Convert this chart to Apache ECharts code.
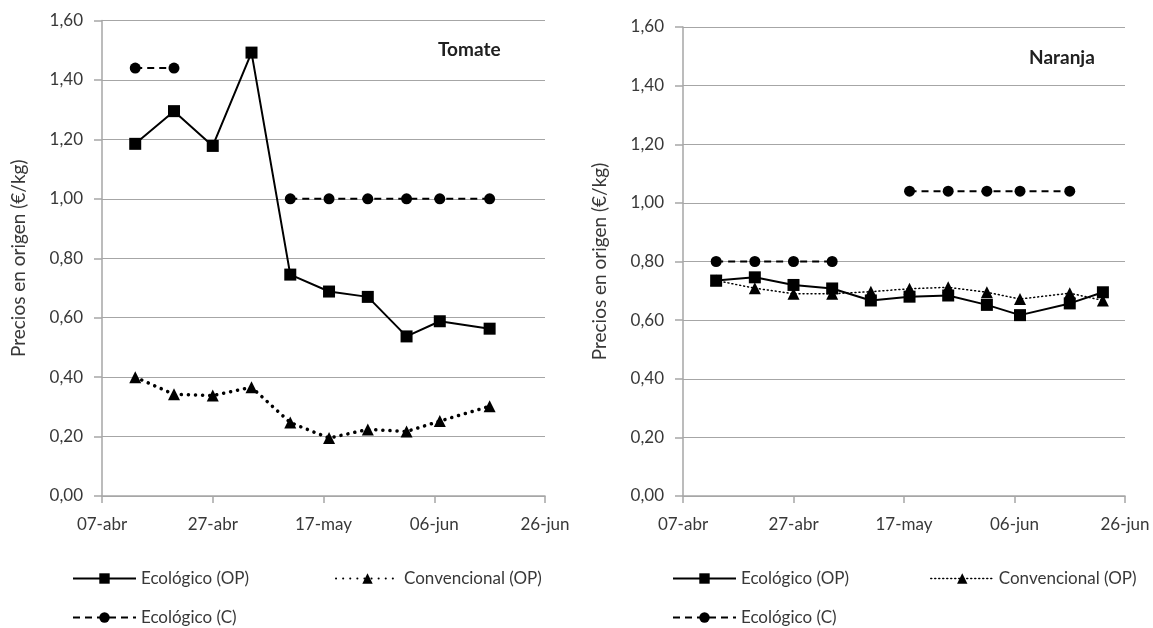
<!DOCTYPE html>
<html>
<head>
<meta charset="utf-8">
<script src="https://cdn.jsdelivr.net/npm/echarts@6/dist/echarts.min.js"></script>
<style>
html,body{margin:0;padding:0;background:#fff;}
#chart{width:1153px;height:628px;}
</style>
</head>
<body>
<div id="chart"></div>
<script>
// ---- Data ----
const startDate = '2010-04-07';
const endDate = '2010-06-26';
const tickStepDays = 20;
const monthNames = ['ene','feb','mar','abr','may','jun','jul','ago','sep','oct','nov','dic'];

const tomateDates = ['2010-04-13','2010-04-20','2010-04-27','2010-05-04','2010-05-11','2010-05-18','2010-05-25','2010-06-01','2010-06-07','2010-06-16'];
const tomateEcoOP = [1.185,1.295,1.178,1.492,0.745,0.688,0.670,0.537,0.588,0.563];
const tomateConvOP = [0.400,0.342,0.338,0.366,0.247,0.195,0.224,0.217,0.252,0.302];
const tomateEcoC = [1.44,1.44,null,null,1.00,1.00,1.00,1.00,1.00,1.00];

const naranjaDates = ['2010-04-13','2010-04-20','2010-04-27','2010-05-04','2010-05-11','2010-05-18','2010-05-25','2010-06-01','2010-06-07','2010-06-16','2010-06-22'];
const naranjaEcoOP = [0.735,0.746,0.720,0.708,0.667,0.680,0.684,0.652,0.617,0.657,0.695];
const naranjaConvOP = [0.735,0.709,0.690,0.690,0.697,0.707,0.712,0.695,0.672,0.692,0.667];
const naranjaEcoC = [0.80,0.80,0.80,0.80,null,1.04,1.04,1.04,1.04,1.04,null];

const seriesNames = ['Ecológico (OP)','Convencional (OP)','Ecológico (C)'];
const chartTitles = ['Tomate','Naranja'];
const yAxisName = 'Precios en origen (€/kg)';

// ---- Helpers ----
const DAY = 86400000;
const t0 = Date.parse(startDate + 'T00:00:00Z');
const dayOffset = d => Math.round((Date.parse(d + 'T00:00:00Z') - t0) / DAY);
const spanDays = dayOffset(endDate);
const pairs = (dates, vals) => dates.map((d, i) => [dayOffset(d), vals[i]]);
const fmtDate = v => {
  const dt = new Date(t0 + v * DAY);
  const dd = String(dt.getUTCDate()).padStart(2, '0');
  return dd + '-' + monthNames[dt.getUTCMonth()];
};
const FONT = 'Lato';
const TXT = '#383838';
const GRIDC = '#a6a6a6';

function xAxis(gi) {
  return {
    type: 'value', gridIndex: gi, min: 0, max: spanDays, interval: tickStepDays,
    axisLine: {show: true, lineStyle: {color: GRIDC, width: 1.5}},
    axisTick: {show: true, length: 7, lineStyle: {color: GRIDC, width: 1.5}},
    splitLine: {show: false},
    axisLabel: {formatter: fmtDate, color: TXT, fontSize: 17, fontFamily: FONT, margin: 20}
  };
}
function yAxis(gi) {
  return {
    type: 'value', gridIndex: gi, min: 0, max: 1.6, interval: 0.2,
    name: yAxisName, nameLocation: 'middle', nameGap: 74, nameRotate: 90,
    nameTextStyle: {color: TXT, fontSize: 19, fontFamily: FONT},
    axisLine: {show: true, lineStyle: {color: GRIDC, width: 1.5}},
    axisTick: {show: true, inside: false, length: 8, lineStyle: {color: GRIDC, width: 1.5}},
    splitLine: {show: true, lineStyle: {color: GRIDC, width: 1.2}},
    axisLabel: {formatter: v => v.toFixed(2).replace('.', ','), color: TXT, fontSize: 17, fontFamily: FONT, margin: 19}
  };
}
function ecoOP(gi, dates, vals) {
  return {name: seriesNames[0], type: 'line', xAxisIndex: gi, yAxisIndex: gi,
    data: pairs(dates, vals), symbol: 'rect', symbolSize: 12, showSymbol: true,
    lineStyle: {color: '#000', width: 2}, itemStyle: {color: '#000'}, z: 3, animation: false};
}
function convOP(gi, dates, vals, width, dash) {
  return {name: seriesNames[1], type: 'line', xAxisIndex: gi, yAxisIndex: gi,
    data: pairs(dates, vals), symbol: 'triangle', symbolSize: 12,
    lineStyle: {color: '#000', width: width, type: dash, cap: 'round'}, itemStyle: {color: '#000'}, z: 2, animation: false};
}
function ecoC(gi, dates, vals) {
  return {name: seriesNames[2], type: 'line', xAxisIndex: gi, yAxisIndex: gi,
    data: pairs(dates, vals), symbol: 'circle', symbolSize: 11, connectNulls: false,
    lineStyle: {color: '#000', width: 2, type: [7, 5]}, itemStyle: {color: '#000'}, z: 2, animation: false};
}
function legend(name, left, top, lineStyle) {
  const l = {data: [name], left: left, top: top, padding: 0, itemWidth: 63, itemHeight: 13, itemGap: 4,
    textStyle: {color: TXT, fontSize: 17, fontFamily: FONT}, selectedMode: false};
  if (lineStyle) l.lineStyle = lineStyle;
  return l;
}

const chart = echarts.init(document.getElementById('chart'), null, {renderer: 'canvas'});
chart.setOption({
  backgroundColor: '#fff',
  animation: false,
  title: [
    {text: chartTitles[0], left: 438, top: 40, padding: 0, textStyle: {fontSize: 19, fontWeight: 'bold', color: '#202020', fontFamily: FONT}},
    {text: chartTitles[1], left: 1029, top: 48, padding: 0, textStyle: {fontSize: 19, fontWeight: 'bold', color: '#202020', fontFamily: FONT}}
  ],
  grid: [
    {left: 102, right: 608, top: 20.5, bottom: 132},
    {left: 683, right: 28, top: 27, bottom: 132}
  ],
  xAxis: [xAxis(0), xAxis(1)],
  yAxis: [yAxis(0), yAxis(1)],
  legend: [
    legend(seriesNames[0], 72, 570),
    legend(seriesNames[1], 335, 570),
    legend(seriesNames[2], 72, 609),
    legend(seriesNames[0], 672, 570),
    legend(seriesNames[1], 930, 570, {width: 1.5, type: [1, 3], cap: 'round'}),
    legend(seriesNames[2], 672, 609)
  ],
  series: [
    ecoOP(0, tomateDates, tomateEcoOP),
    convOP(0, tomateDates, tomateConvOP, 3.5, [0.1, 7]),
    ecoC(0, tomateDates, tomateEcoC),
    ecoOP(1, naranjaDates, naranjaEcoOP),
    convOP(1, naranjaDates, naranjaConvOP, 1.5, [1, 3]),
    ecoC(1, naranjaDates, naranjaEcoC)
  ]
});
</script>
</body>
</html>
